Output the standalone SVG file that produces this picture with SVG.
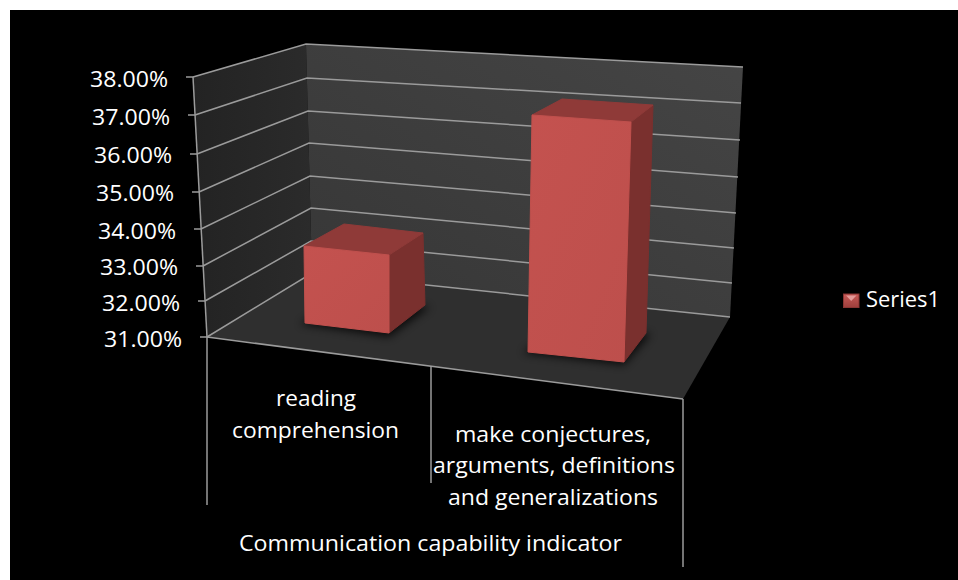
<svg xmlns="http://www.w3.org/2000/svg" width="958" height="580" viewBox="0 0 958 580">
<style>
  .grid{stroke:#9b9b9b;stroke-width:1.5;fill:none}
  .txt{font-family:"Open Sans","Noto Sans","Liberation Sans",sans-serif;font-size:22px;fill:#ffffff}
  .ylab{text-anchor:end}
  .mid{text-anchor:middle}
  .front{fill:url(#gFront)}
  .top{fill:#8f3a38}
  .side{fill:#7a302e}
</style>
<defs>
  <linearGradient id="gBack" x1="0" y1="1" x2="1" y2="0">
    <stop offset="0" stop-color="#363636"/>
    <stop offset="1" stop-color="#454545"/>
  </linearGradient>
  <linearGradient id="gLeft" x1="0" y1="0" x2="1" y2="0">
    <stop offset="0" stop-color="#232323"/>
    <stop offset="1" stop-color="#2b2b2b"/>
  </linearGradient>
  <linearGradient id="gFront" x1="0" y1="0" x2="1" y2="1">
    <stop offset="0" stop-color="#c4524f"/>
    <stop offset="1" stop-color="#bd4f4c"/>
  </linearGradient>
  <linearGradient id="gLeg" x1="0" y1="0" x2="0" y2="1">
    <stop offset="0" stop-color="#c85a57"/>
    <stop offset="1" stop-color="#9e3f3c"/>
  </linearGradient>
  <filter id="blur" x="-30%" y="-30%" width="160%" height="160%">
    <feGaussianBlur stdDeviation="4"/>
  </filter>
</defs>

<rect x="0" y="0" width="958" height="580" fill="#ffffff"/>
<rect x="10" y="10" width="948" height="570" fill="#000000"/>

<g id="walls">
  <polygon points="193,77 306,44 312,273 207,337" fill="url(#gLeft)"/>
  <polygon points="306,44 743,67 730,317 312,273" fill="url(#gBack)"/>
  <polygon points="207,337 312,273 730,317 683,399" fill="#2f2f2f"/>
</g>

<g id="gridlines">
  <!-- left wall -->
  <polyline class="grid" points="193,77 306,44 743,67"/>
  <polyline class="grid" points="195,115 307,78 741,103"/>
  <polyline class="grid" points="197,154 308,111 740,140"/>
  <polyline class="grid" points="199,192 309,143 738,177"/>
  <polyline class="grid" points="201,229 310,176 736,213"/>
  <polyline class="grid" points="203,266 311,208 734,248"/>
  <polyline class="grid" points="205,301 311,241 732,283"/>
  <polyline class="grid" points="207,337 312,273 730,317"/>
  <!-- value axis and ticks -->
  <line class="grid" x1="193" y1="77" x2="207" y2="337"/>
  <line class="grid" x1="186" y1="77" x2="193" y2="77"/>
  <line class="grid" x1="188" y1="115" x2="195" y2="115"/>
  <line class="grid" x1="190" y1="154" x2="197" y2="154"/>
  <line class="grid" x1="192" y1="192" x2="199" y2="192"/>
  <line class="grid" x1="194" y1="229" x2="201" y2="229"/>
  <line class="grid" x1="196" y1="266" x2="203" y2="266"/>
  <line class="grid" x1="198" y1="301" x2="205" y2="301"/>
  <line class="grid" x1="200" y1="337" x2="207" y2="337"/>
  <!-- floor front edge and category dividers -->
  <line class="grid" x1="207" y1="337" x2="683" y2="399"/>
  <line class="grid" x1="207" y1="337" x2="207" y2="505"/>
  <line class="grid" x1="431" y1="366" x2="431" y2="483"/>
  <line class="grid" x1="683" y1="399" x2="683" y2="567"/>
</g>

<g id="bar-reading">
  <polygon points="300,324 389,337 430,307 344,297" fill="#000" opacity="0.75" filter="url(#blur)"/>
  <polygon class="side" points="389,255 423,233 425,305 389,333" stroke="#7a302e" stroke-width="1" stroke-linejoin="round"/>
  <polygon class="top" points="304,246 344,224 423,233 389,255" stroke="#8f3a38" stroke-width="1" stroke-linejoin="round"/>
  <polygon class="front" points="304,246 389,255 389,333 305,323" stroke="#c0504d" stroke-width="1" stroke-linejoin="round"/>
</g>

<g id="bar-conjectures">
  <polygon points="523,353 624,365 651,334 560,325" fill="#000" opacity="0.75" filter="url(#blur)"/>
  <polygon class="side" points="631,122 653,105 646,333 624,362" stroke="#7a302e" stroke-width="1" stroke-linejoin="round"/>
  <polygon class="top" points="532,115 562,99 653,105 631,122" stroke="#8f3a38" stroke-width="1" stroke-linejoin="round"/>
  <polygon class="front" points="532,115 631,122 624,362 528,352" stroke="#c0504d" stroke-width="1" stroke-linejoin="round"/>
</g>

<g id="value-labels" class="txt ylab">
  <text x="168" y="87" textLength="78" lengthAdjust="spacingAndGlyphs">38.00%</text>
  <text x="170" y="125" textLength="78" lengthAdjust="spacingAndGlyphs">37.00%</text>
  <text x="172" y="163" textLength="78" lengthAdjust="spacingAndGlyphs">36.00%</text>
  <text x="174" y="201" textLength="78" lengthAdjust="spacingAndGlyphs">35.00%</text>
  <text x="176" y="239" textLength="78" lengthAdjust="spacingAndGlyphs">34.00%</text>
  <text x="178" y="275" textLength="78" lengthAdjust="spacingAndGlyphs">33.00%</text>
  <text x="180" y="311" textLength="78" lengthAdjust="spacingAndGlyphs">32.00%</text>
  <text x="182" y="347" textLength="78" lengthAdjust="spacingAndGlyphs">31.00%</text>
</g>

<g id="category-labels" class="txt mid">
  <text x="316" y="406" textLength="80" lengthAdjust="spacingAndGlyphs">reading</text>
  <text x="315.5" y="438" textLength="167" lengthAdjust="spacingAndGlyphs">comprehension</text>
  <text x="553" y="442" textLength="196" lengthAdjust="spacingAndGlyphs">make conjectures,</text>
  <text x="554" y="473" textLength="242" lengthAdjust="spacingAndGlyphs">arguments, definitions</text>
  <text x="553" y="505" textLength="210" lengthAdjust="spacingAndGlyphs">and generalizations</text>
</g>

<g id="axis-title" class="txt mid">
  <text x="430.5" y="551" textLength="383" lengthAdjust="spacingAndGlyphs">Communication capability indicator</text>
</g>

<g id="legend">
  <rect x="843.5" y="294" width="15.5" height="13.5" fill="url(#gLeg)" stroke="#8a3533" stroke-width="1"/>
  <polygon points="846,295.5 856.5,295.5 851.2,301" fill="#e39a98"/>
  <text class="txt" x="866" y="307" textLength="74" lengthAdjust="spacingAndGlyphs">Series1</text>
</g>
</svg>
